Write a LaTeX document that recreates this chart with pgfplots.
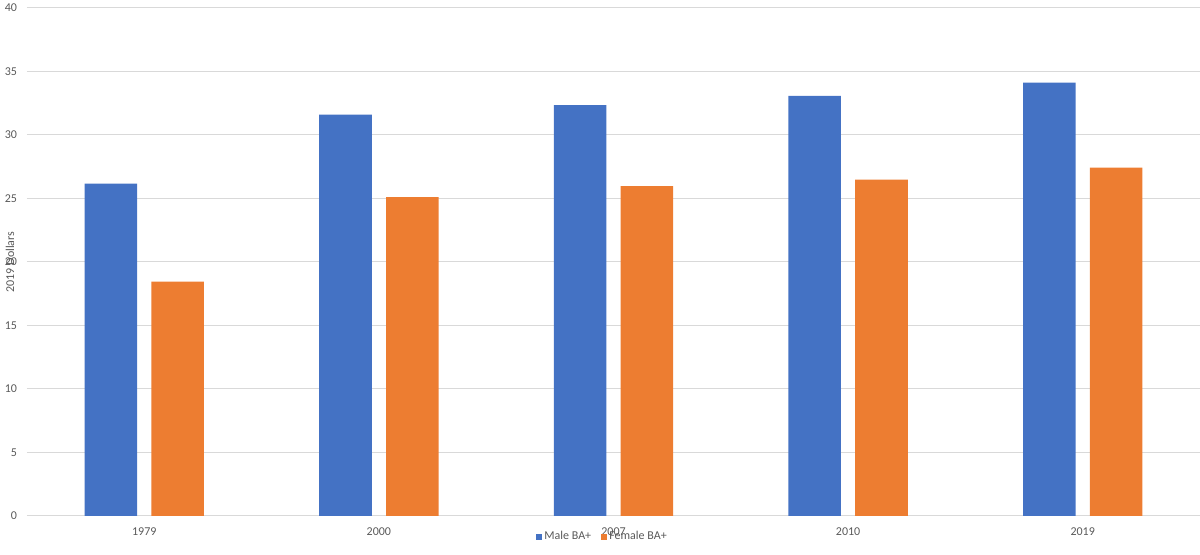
\documentclass[border=0pt]{standalone}
\usepackage{pgfplots}
\pgfplotsset{compat=1.18}
\usepackage{fontspec}
\setmainfont{Carlito}
\definecolor{xblue}{HTML}{4472C4}
\definecolor{xorange}{HTML}{ED7D31}
\definecolor{xgrid}{HTML}{D9D9D9}
\definecolor{xtext}{HTML}{595959}
\begin{document}
\begin{tikzpicture}[x=0.75pt,y=0.75pt]
\useasboundingbox (0,0) rectangle (1200,555);
\begin{axis}[
  at={(20.25pt,29.25pt)}, anchor=south west,
  scale only axis,
  width=879.75pt, height=381pt,
  ybar,
  ymin=0, ymax=40, ytick={0,5,...,40},
  xmin=-0.5, xmax=4.5,
  xtick={0,1,2,3,4},
  xticklabels={1979,2000,2007,2010,2019},
  major tick length=0pt,
  ymajorgrids, grid style={xgrid, line width=0.75pt},
  axis x line*=bottom, axis y line*=left,
  x axis line style={xgrid, line width=0.75pt, -},
  y axis line style={draw=none},
  bar width=39.4pt,
  tick label style={font=\fontsize{9}{11}\selectfont, text=xtext},
  /pgf/number format/assume math mode=true,
  yticklabel style={anchor=east, xshift=-4pt},
  ylabel={2019 Dollars},
  ylabel style={at={(axis description cs:0,0.5)}, anchor=center, yshift=12.75pt, font=\fontsize{9}{11}\selectfont, text=xtext},
  xticklabel style={yshift=-5pt},
  legend style={at={(axis description cs:0.5,0)}, anchor=north, yshift=-7.5pt, xshift=-8.25pt, draw=none, fill=none, font=\fontsize{9}{11}\selectfont, text=xtext, legend columns=2, /tikz/every even column/.append style={column sep=5pt}, nodes={inner xsep=2pt}},
  legend image code/.code={\fill[#1] (0pt,-2.4pt) rectangle (4.6pt,2.2pt);},
  legend cell align=left,
]
\addplot[fill=xblue, draw=none, bar shift=-25.05pt] coordinates {(0,26.18) (1,31.61) (2,32.35) (3,33.08) (4,34.13)};
\addplot[fill=xorange, draw=none, bar shift=25.05pt] coordinates {(0,18.45) (1,25.1) (2,25.98) (3,26.48) (4,27.43)};
\legend{Male BA+, Female BA+}
\end{axis}
\end{tikzpicture}
\end{document}
